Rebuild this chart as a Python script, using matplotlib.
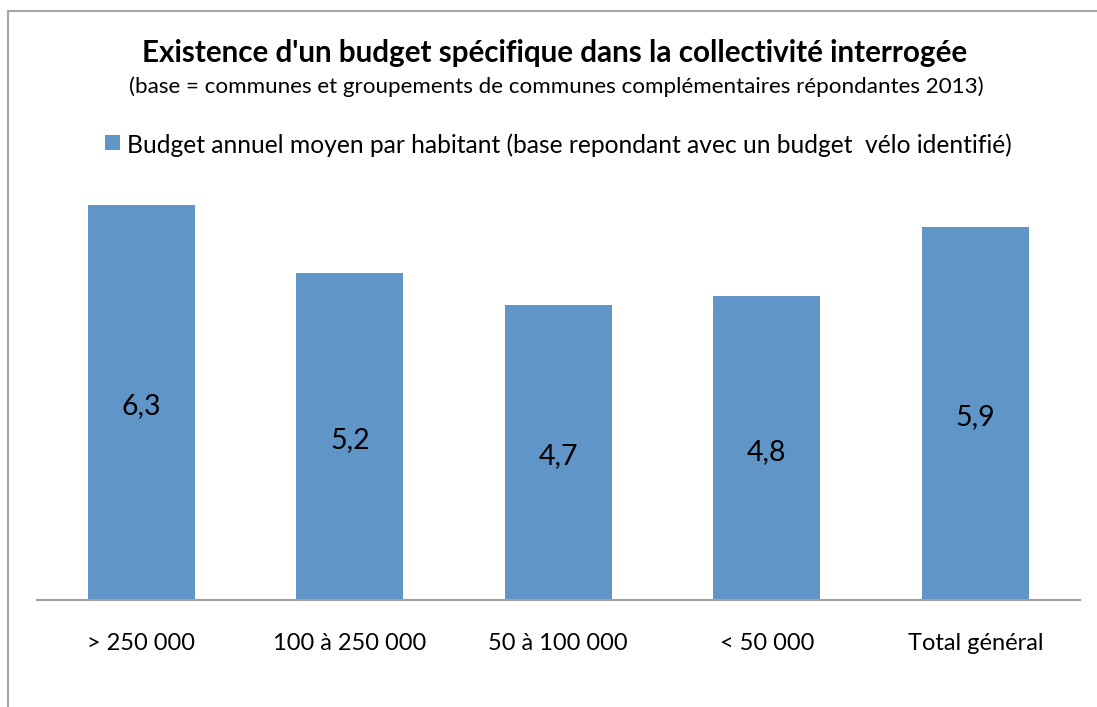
import matplotlib
matplotlib.use("Agg")
import matplotlib.pyplot as plt
from matplotlib.patches import Rectangle

categories = ["> 250 000", "100 à 250 000", "50 à 100 000", "< 50 000", "Total général"]
values = [6.3, 5.22, 4.7, 4.84, 5.95]
value_labels = ["6,3", "5,2", "4,7", "4,8", "5,9"]
title = "Existence d'un budget spécifique dans la collectivité interrogée"
subtitle = "(base = communes et groupements de communes complémentaires répondantes 2013)"
legend_label = "Budget annuel moyen par habitant (base repondant avec un budget  vélo identifié)"

FONT = ["Lato", "DejaVu Sans"]
plt.rcParams['font.family'] = FONT

W, H = 1097, 707
fig = plt.figure(figsize=(W / 100, H / 100), dpi=100)
fig.patch.set_facecolor("white")

def fx(x):
    return x / W

def fy(y):
    return 1 - y / H

# outer border (extends past the right and bottom edges)
fig.add_artist(Rectangle((fx(7.5), fy(760)), fx(1200), fy(10.5) - fy(760),
                         transform=fig.transFigure, fill=False,
                         edgecolor="#A6A6A6", linewidth=1.5))

ax_left, ax_right, ax_bottom, ax_top = 37, 1079.5, 600, 161
ax = fig.add_axes([fx(ax_left), fy(ax_bottom), fx(ax_right - ax_left), fy(ax_top) - fy(ax_bottom)])
ax.set_facecolor("none")
bar_color = "#6095C8"
xs = list(range(len(categories)))
ax.bar(xs, values, width=0.513, color=bar_color, edgecolor="none")
ax.set_xlim(-0.5, len(categories) - 0.5)
ax.set_ylim(0, 7)
for s in ["top", "right", "left"]:
    ax.spines[s].set_visible(False)
ax.spines["bottom"].set_color("#A0A0A0")
ax.spines["bottom"].set_linewidth(1.5)
ax.set_yticks([])
ax.set_xticks(xs)
ax.set_xticklabels(categories, fontsize=17, color="black")
ax.tick_params(axis="x", length=0, pad=24)

for x, v, lab in zip(xs, values, value_labels):
    ax.annotate(lab, (x, v / 2), xytext=(0, -2.5), textcoords="offset points",
                ha="center", va="center", fontsize=20.5, color="black")

fig.canvas.draw()
renderer = fig.canvas.get_renderer()

def fitted_text(xc, ybase, s, target_w, weight="normal", start=16, ha="center"):
    t = fig.text(fx(xc), fy(ybase), s, ha=ha, va="baseline", fontsize=start,
                 fontweight=weight, color="black")
    w = t.get_window_extent(renderer).width
    t.set_fontsize(start * target_w / w)
    return t

fitted_text(555, 62, title, 828, weight="bold", start=18)
fitted_text(556, 93, subtitle, 850, start=13)
fitted_text(127, 153, legend_label, 892, start=14, ha="left")
fig.add_artist(Rectangle((fx(105), fy(150)), fx(15), fy(135) - fy(150),
                         transform=fig.transFigure, facecolor=bar_color, edgecolor="none"))

fig.savefig("out.png", dpi=100, facecolor="white")
